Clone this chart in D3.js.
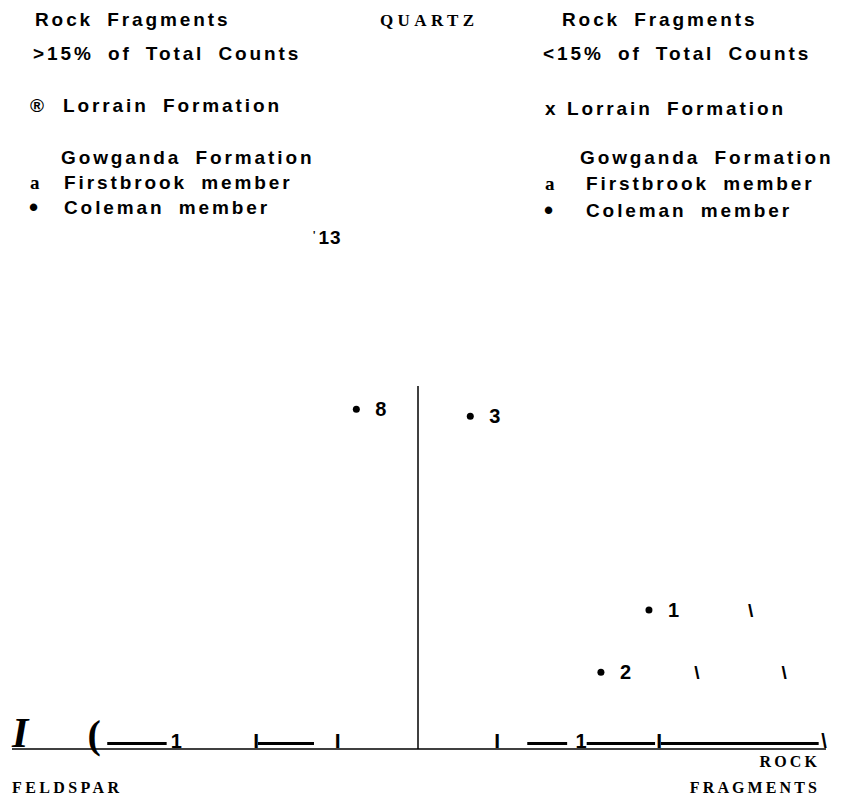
<!DOCTYPE html>
<meta charset="utf-8">
<script src="https://d3js.org/d3.v7.min.js"></script>
<style>
body { margin: 0; background: #fff; }
#chart text.sans { font-family: "Liberation Sans", Arial, sans-serif; font-weight: bold; }
#chart text.serif { font-family: "Liberation Serif", "Times New Roman", serif; font-weight: bold; }
</style>
<div id="chart"></div>
<script>
// sample points (percent of Q / F / RF)
var sampleIds = ["8", "3", "1", "2"];
var quartzPct = [48.2, 47.2, 19.7, 10.9];
var rockFragPct = [18.2, 32.7, 68.4, 66.9];
var feldsparPct = [33.6, 20.1, 11.9, 22.2];

// pieces of the right-hand edge that survived as "\" marks
var edgeQuartz = [19.7, 10.9, 10.9];
var edgeRock = [80.9, 78.7, 89.4];

// broken bottom axis, percent along feldspar -> rock fragments
var baseSegments = [[11.7, 19.0], [30.2, 37.1], [63.3, 68.2], [70.6, 79.0], [79.7, 99.1]];
var baseTicks = [30.0, 40.0, 59.6, 79.5];
var baseOnes = [20.2, 69.9];

var legendLeft = ["Rock Fragments", ">15% of Total Counts", "Lorrain Formation", "Gowganda Formation", "Firstbrook member", "Coleman member"];
var legendRight = ["Rock Fragments", "<15% of Total Counts", "Lorrain Formation", "Gowganda Formation", "Firstbrook member", "Coleman member"];
var markersLeft = ["", "", "®", "", "a", "•"];
var markersRight = ["", "", "x", "", "a", "•"];

var W = 843, H = 799;
var svg = d3.select("#chart").append("svg")
    .attr("width", W)
    .attr("height", H);

// ternary layout: base from F corner to RF corner, quartz up
var xs = d3.scaleLinear().domain([0, 100]).range([12, 826]);
var ys = d3.scaleLinear().domain([0, 100]).range([749, 44]);
function px(q, r) { return xs(r + q / 2); }
function py(q) { return ys(q); }

// legends
var rowY = [26, 60, 112, 164, 189, 214];
var rowYR = [26, 60, 115, 164, 190, 217];
var textXL = [35, 33, 63, 61, 64, 64];
var textXR = [562, 543, 567, 580, 586, 586];

function legend(lines, marks, xsArr, yArr, markX) {
  lines.forEach(function(t, i) {
    svg.append("text").attr("class", "sans")
      .attr("x", xsArr[i]).attr("y", yArr[i])
      .attr("font-size", 19)
      .attr("letter-spacing", 2.9)
      .attr("word-spacing", 6)
      .text(t);
    if (marks[i]) {
      var m = marks[i];
      svg.append("text")
        .attr("class", m == "a" ? "serif" : "sans")
        .attr("x", m == "•" ? markX - 1 : markX).attr("y", yArr[i] + (m == "•" ? 2 : 0))
        .attr("font-size", m == "•" ? 26 : 19)
        .text(m);
    }
  });
}
legend(legendLeft, markersLeft, textXL, rowY, 30);
legend(legendRight, markersRight, textXR, rowYR, 545);

// corner labels
svg.append("text").attr("class", "serif")
  .attr("x", 380).attr("y", 26)
  .attr("font-size", 17).attr("letter-spacing", 4.4)
  .text("QUARTZ");
svg.append("text").attr("class", "serif")
  .attr("x", 12).attr("y", 793)
  .attr("font-size", 16).attr("letter-spacing", 3.4)
  .text("FELDSPAR");
svg.append("text").attr("class", "serif")
  .attr("x", 820).attr("y", 767).attr("text-anchor", "end")
  .attr("font-size", 16).attr("letter-spacing", 3.1)
  .text("ROCK");
svg.append("text").attr("class", "serif")
  .attr("x", 820).attr("y", 793).attr("text-anchor", "end")
  .attr("font-size", 16).attr("letter-spacing", 3.1)
  .text("FRAGMENTS");

// stray label near the top
svg.append("text").attr("class", "sans")
  .attr("x", 313).attr("y", 244)
  .attr("font-size", 19).attr("letter-spacing", 1)
  .html("<tspan font-size='10' dy='-5'>'</tspan><tspan dy='5' dx='2'>13</tspan>");

// axes
svg.append("line")
  .attr("x1", xs(0)).attr("x2", xs(100))
  .attr("y1", ys(0)).attr("y2", ys(0))
  .attr("stroke", "#000").attr("stroke-width", 1.5);
svg.append("line")
  .attr("x1", xs(50) - 1).attr("x2", xs(50) - 1)
  .attr("y1", ys(51.5)).attr("y2", ys(0))
  .attr("stroke", "#000").attr("stroke-width", 1.5);

// broken axis pieces
svg.selectAll(".seg").data(baseSegments).enter().append("line")
  .attr("x1", function(d) { return xs(d[0]); })
  .attr("x2", function(d) { return xs(d[1]); })
  .attr("y1", ys(0) - 5.5).attr("y2", ys(0) - 5.5)
  .attr("stroke", "#000").attr("stroke-width", 3);
svg.selectAll(".tick").data(baseTicks).enter().append("text")
  .attr("class", "sans")
  .attr("x", function(d) { return xs(d); }).attr("y", ys(0) - 1)
  .attr("text-anchor", "middle").attr("font-size", 21)
  .text("I");
svg.selectAll(".one").data(baseOnes).enter().append("text")
  .attr("class", "sans")
  .attr("x", function(d) { return xs(d); }).attr("y", ys(0) - 1)
  .attr("text-anchor", "middle").attr("font-size", 20)
  .text("1");
svg.append("text").attr("class", "serif")
  .attr("x", xs(10.1)).attr("y", ys(0) - 1)
  .attr("text-anchor", "middle").attr("font-size", 40)
  .text("(");
svg.append("text").attr("class", "sans")
  .attr("x", xs(99.75)).attr("y", ys(0) - 1)
  .attr("text-anchor", "middle").attr("font-size", 20)
  .text("\\");
svg.append("text").attr("class", "serif")
  .attr("x", xs(0)).attr("y", ys(0) - 2)
  .attr("font-size", 42).attr("font-style", "italic")
  .text("I");

// right edge remnants
svg.selectAll(".edge").data(edgeQuartz).enter().append("text")
  .attr("class", "sans")
  .attr("x", function(d, i) { return px(d, edgeRock[i]); })
  .attr("y", function(d) { return py(d) + 7; })
  .attr("text-anchor", "middle").attr("font-size", 19)
  .text("\\");

// samples
var pts = sampleIds.map(function(id, i) {
  return { id: id, q: quartzPct[i], r: rockFragPct[i], f: feldsparPct[i] };
});
var g = svg.selectAll(".pt").data(pts).enter().append("g")
  .attr("transform", function(d) { return "translate(" + px(d.q, d.r) + "," + py(d.q) + ")"; });
g.append("circle").attr("r", 3.5).attr("fill", "#000");
g.append("text").attr("class", "sans")
  .attr("x", 19).attr("y", 7)
  .attr("font-size", 20)
  .text(function(d) { return d.id; });
</script>
